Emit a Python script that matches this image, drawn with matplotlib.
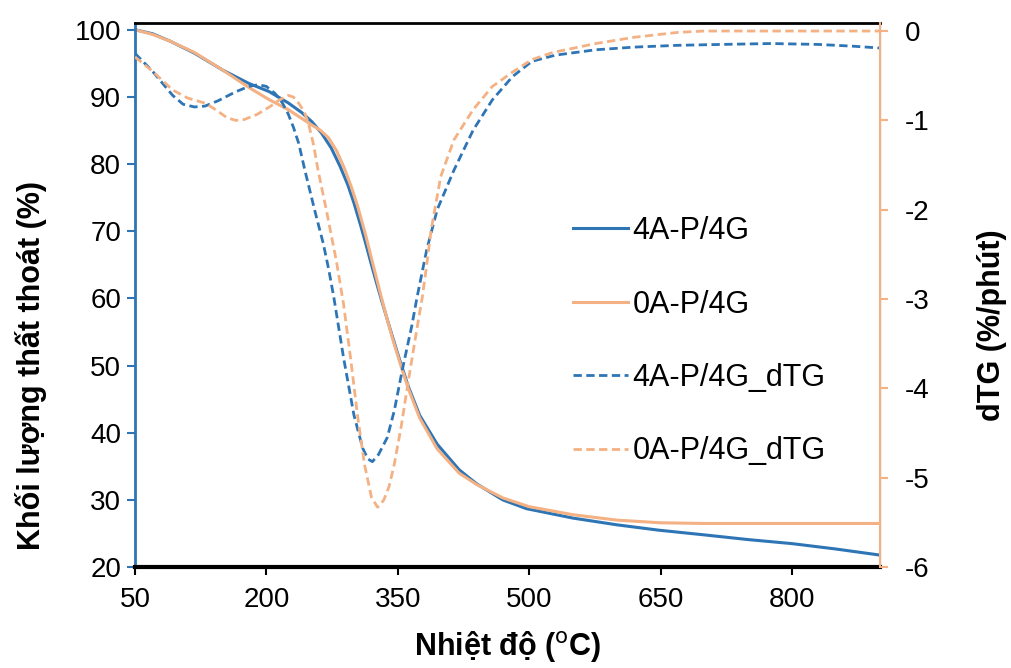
import matplotlib
matplotlib.use("Agg")
import matplotlib.pyplot as plt

plt.rcParams['font.family'] = ['Liberation Sans', 'DejaVu Sans']
plt.rcParams['axes.unicode_minus'] = False

# Temperature points (degC) and mass loss (%)
temp_tg_4a = [50, 70, 90, 118, 150, 180, 203, 225, 240, 252, 263, 274, 284, 293, 300, 308, 314, 320,
              326, 332, 340, 347, 353, 362, 375, 395, 420, 440, 470, 497, 550, 600, 648, 700, 750,
              800, 850, 900]
tg_4a = [100, 99.4, 98.3, 96.5, 94.0, 92.0, 90.8, 89.1, 87.7, 86.3, 84.6, 82.4, 79.7, 76.9, 74.2, 70.7,
         67.9, 65.0, 62.2, 59.5, 56.0, 53.0, 50.5, 46.9, 42.6, 38.3, 34.5, 32.4, 30.0, 28.7, 27.3, 26.3,
         25.5, 24.8, 24.1, 23.5, 22.7, 21.8]

temp_tg_0a = [50, 70, 90, 118, 150, 180, 203, 225, 252, 262, 271, 280, 289, 297, 304, 313, 323, 330,
              337, 345, 353, 362, 375, 395, 420, 440, 470, 500, 550, 600, 650, 700, 750, 800, 850, 900]
tg_0a = [100, 99.3, 98.3, 96.6, 94.0, 91.4, 89.6, 88.1, 85.8, 85.0, 83.9, 82.0, 79.4, 76.6, 73.8, 69.6,
         64.4, 60.8, 57.3, 53.6, 50.2, 46.6, 42.2, 37.6, 34.0, 32.3, 30.3, 29.0, 27.8, 27.0, 26.6, 26.5,
         26.5, 26.5, 26.5, 26.5]

# dTG (%/phut)
temp_dtg_4a = [50, 70, 93, 105, 118, 130, 145, 165, 180, 191, 200, 210, 218, 225, 231, 237, 244, 255,
               265, 271, 277, 288, 300, 310, 316, 321, 328, 338, 346, 355, 366, 372, 383, 395, 414,
               436, 458, 481, 503, 530, 576, 620, 670, 720, 776, 830, 870, 900]
dtg_4a = [-0.25, -0.45, -0.72, -0.82, -0.85, -0.84, -0.78, -0.68, -0.62, -0.60, -0.62, -0.70, -0.80,
          -0.93, -1.08, -1.26, -1.56, -2.0, -2.38, -2.66, -2.98, -3.65, -4.30, -4.67, -4.79, -4.82,
          -4.74, -4.55, -4.25, -3.80, -3.30, -2.98, -2.45, -2.0, -1.56, -1.11, -0.77, -0.51, -0.34,
          -0.27, -0.21, -0.18, -0.16, -0.15, -0.14, -0.15, -0.17, -0.19]

temp_dtg_0a = [50, 70, 93, 110, 131, 145, 155, 165, 175, 190, 205, 215, 225, 231, 237, 243, 248, 254,
               259, 268, 280, 288, 296, 304, 312, 320, 327, 334, 340, 346, 354, 361, 369, 378, 383,
               388, 399, 414, 436, 458, 481, 503, 527, 576, 620, 670, 700, 800, 900]
dtg_0a = [-0.29, -0.45, -0.66, -0.75, -0.81, -0.90, -0.97, -1.00, -0.99, -0.93, -0.84, -0.77, -0.72,
          -0.74, -0.81, -0.90, -1.03, -1.28, -1.56, -1.98, -2.58, -3.05, -3.65, -4.30, -4.85, -5.22,
          -5.33, -5.25, -5.10, -4.85, -4.42, -3.98, -3.50, -2.98, -2.62, -2.23, -1.63, -1.22, -0.88,
          -0.62, -0.46, -0.32, -0.24, -0.14, -0.07, -0.015, 0.0, 0.0, 0.0]

blue = '#2E75B6'
orange = '#F4B183'

fig = plt.figure(figsize=(10.11, 6.68), dpi=100)
ax = fig.add_axes([0.1335, 0.151, 0.7365, 0.8146])
ax2 = ax.twinx()

l1, = ax.plot(temp_tg_4a, tg_4a, color=blue, lw=2.2, label='4A-P/4G')
l2, = ax.plot(temp_tg_0a, tg_0a, color=orange, lw=2.2, label='0A-P/4G')
l3, = ax2.plot(temp_dtg_4a, dtg_4a, color=blue, lw=2.0, ls=(0, (3, 1.6)), label='4A-P/4G_dTG')
l4, = ax2.plot(temp_dtg_0a, dtg_0a, color=orange, lw=2.0, ls=(0, (3, 1.6)), label='0A-P/4G_dTG')

ax.set_xlim(50, 900)
ax.set_ylim(20, 101)
ax2.set_ylim(-6, 0.09)
ax.set_xticks([50, 200, 350, 500, 650, 800])
ax.set_yticks(range(20, 101, 10))
ax2.set_yticks(range(-6, 1))

# spines
ax.spines['left'].set_color(blue)
ax.spines['left'].set_linewidth(2)
ax.spines['top'].set_color('black')
ax.spines['top'].set_linewidth(2)
ax.spines['bottom'].set_color('black')
ax.spines['bottom'].set_linewidth(3)
ax2.spines['right'].set_color(orange)
ax2.spines['right'].set_linewidth(1.5)
ax2.spines['left'].set_visible(False)
ax2.spines['top'].set_visible(False)
ax2.spines['bottom'].set_visible(False)

ax.tick_params(axis='y', colors=blue, labelcolor='black', direction='out', length=6, width=1.5,
               labelsize=20, pad=4)
ax.tick_params(axis='x', colors='black', direction='out', length=6, width=1.5, labelsize=20, pad=8)
ax2.tick_params(axis='y', colors=orange, labelcolor='black', direction='out', length=6, width=1.5,
                labelsize=20, pad=12)

ax.set_xlabel('Nhiệt độ ($^{\\mathrm{o}}$C)', fontsize=22, fontweight='bold', labelpad=12)
ax.set_ylabel('Khối lượng thất thoát (%)', fontsize=22, fontweight='bold', labelpad=20, y=0.371)
ax2.set_ylabel('dTG (%/phút)', fontsize=22, fontweight='bold', labelpad=34, y=0.445)

ax.legend(handles=[l1, l2, l3, l4], frameon=False, fontsize=22, loc='upper left',
          bbox_to_anchor=(0.588, 0.645), borderpad=0, borderaxespad=0,
          handlelength=1.8, handletextpad=0.15, labelspacing=1.42)

fig.savefig('out.png', dpi=100)
